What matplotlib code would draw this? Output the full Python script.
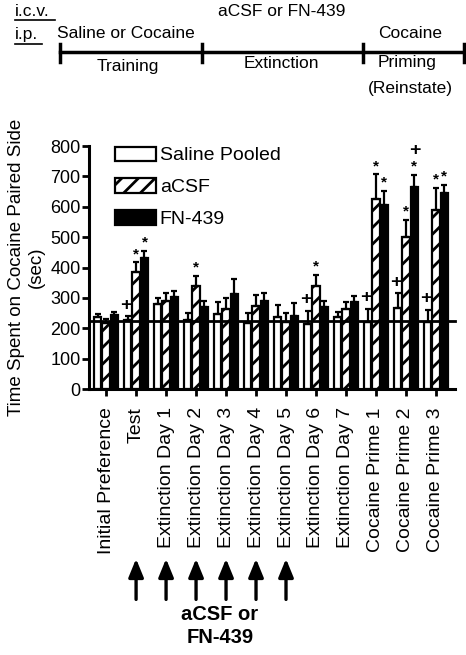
import matplotlib
matplotlib.use("Agg")
import matplotlib.pyplot as plt
import numpy as np

plt.rcParams['font.family'] = ['Liberation Sans', 'DejaVu Sans']
plt.rcParams['hatch.linewidth'] = 2.0

days = ["Initial Preference", "Test", "Extinction Day 1", "Extinction Day 2",
        "Extinction Day 3", "Extinction Day 4", "Extinction Day 5",
        "Extinction Day 6", "Extinction Day 7", "Cocaine Prime 1",
        "Cocaine Prime 2", "Cocaine Prime 3"]
saline = [238, 227, 280, 227, 247, 218, 236, 214, 236, 222, 268, 221]
saline_err = [9, 13, 20, 24, 40, 31, 40, 44, 18, 43, 47, 39]
acsf = [216, 386, 289, 339, 265, 274, 221, 340, 265, 625, 501, 591]
acsf_err = [14, 31, 28, 33, 35, 35, 30, 35, 22, 82, 57, 71]
fn439 = [243, 433, 304, 269, 312, 289, 241, 269, 285, 605, 666, 644]
fn439_err = [11, 22, 19, 20, 49, 26, 43, 21, 22, 47, 38, 27]
labels = ["Saline Pooled", "aCSF", "FN-439"]
baseline = 225

# (group, series index, symbol)
marks = [(1, 0, "+"), (1, 1, "*"), (1, 2, "*"), (3, 1, "*"),
         (7, 0, "+"), (7, 1, "*"),
         (9, 0, "+"), (9, 1, "*"), (9, 2, "*"),
         (10, 0, "+"), (10, 1, "*"), (10, 2, "*"), (10, 2, "+"),
         (11, 0, "+"), (11, 1, "*"), (11, 2, "*")]
arrow_days = [1, 2, 3, 4, 5, 6]

fig = plt.figure(figsize=(4.66, 6.55), dpi=100)
ax = fig.add_axes([0.191, 0.406, 0.785, 0.371])

x = np.arange(len(days))
w = 0.25
off = 0.28
series = [(saline, saline_err, "white", ""),
          (acsf, acsf_err, "white", "//"),
          (fn439, fn439_err, "black", "")]
handles = []
for i, (vals, errs, col, hatch) in enumerate(series):
    xs = x + (i - 1) * off
    b = ax.bar(xs, vals, w, color=col, edgecolor="black", hatch=hatch, linewidth=1.6, zorder=2)
    handles.append(b)
    ax.errorbar(xs, vals, yerr=[np.zeros(len(vals)), errs], fmt="none",
                ecolor="black", elinewidth=1.6, capsize=2.5, capthick=1.6, zorder=3)

ax.axhline(baseline, color="black", linewidth=2, zorder=4, clip_on=False)

allv = [saline, acsf, fn439]
alle = [saline_err, acsf_err, fn439_err]
for g, s, sym in marks:
    top = allv[s][g] + alle[s][g]
    xs = x[g] + (s - 1) * off
    if sym == "*":
        ax.annotate("*", (xs, top), xytext=(0, 6), textcoords="offset points",
                    ha="center", va="center", fontsize=11, fontweight="bold")
    else:
        dy = 8 if s == 0 else 18
        ax.annotate("+", (xs - (0.06 if s == 0 else 0), top), xytext=(0, dy),
                    textcoords="offset points",
                    ha="center", va="center", fontsize=14, fontweight="bold")

ax.set_xlim(-0.57, 11.63)
ax.set_ylim(0, 800)
ax.set_yticks(range(0, 801, 100))
ax.set_xticks(x)
ax.set_xticklabels(days, rotation=90, fontsize=14)
ax.tick_params(axis="y", labelsize=13, width=2, length=5, pad=1)
ax.tick_params(axis="x", width=2, length=5, pad=8)
for side in ["top", "right"]:
    ax.spines[side].set_visible(False)
for side in ["left", "bottom"]:
    ax.spines[side].set_linewidth(2.2)
ax.set_ylabel("Time Spent on Cocaine Paired Side\n(sec)", fontsize=13.5, labelpad=4)

ax.legend(handles, labels, loc="upper left",
          bbox_to_anchor=(0.05, 1.03), frameon=False, fontsize=14,
          handlelength=2.1, handleheight=0.75, handletextpad=0.2, labelspacing=0.72,
          borderaxespad=0)

# arrows under the x labels
tr = ax.get_xaxis_transform()
for d in arrow_days:
    ax.annotate("", xy=(x[d], -0.687), xytext=(x[d], -0.877), xycoords=tr, textcoords=tr,
                arrowprops=dict(arrowstyle="-|>,head_width=0.45,head_length=1.1",
                                color="black", lw=2.4))
ax.text(3.8, -0.89, "aCSF or\nFN-439", transform=tr, ha="center", va="top",
        fontsize=14.5, fontweight="bold", linespacing=1.25)

# timeline header
H = 655.0
W = 466.0
def fx(px):
    return px / W
def fy(py):
    return 1 - py / H

fig.text(fx(15), fy(11), "i.c.v.", fontsize=12.5, va="center", ha="left")
fig.text(fx(15), fy(35), "i.p.", fontsize=12.5, va="center", ha="left")
fig.add_artist(plt.Line2D([fx(15), fx(55)], [fy(20), fy(20)], color="black", lw=1.2))
fig.add_artist(plt.Line2D([fx(15), fx(42)], [fy(44), fy(44)], color="black", lw=1.2))
fig.text(fx(282), fy(11), "aCSF or FN-439", fontsize=12.5, va="center", ha="center")
fig.text(fx(126), fy(34), "Saline or Cocaine", fontsize=12.5, va="center", ha="center")
fig.text(fx(410), fy(34), "Cocaine", fontsize=12.5, va="center", ha="center")
fig.add_artist(plt.Line2D([fx(60), fx(464)], [fy(52), fy(52)], color="black", lw=2.5))
for px in [60, 202, 363, 464]:
    fig.add_artist(plt.Line2D([fx(px), fx(px)], [fy(44), fy(62)], color="black", lw=2.5))
fig.text(fx(128), fy(67), "Training", fontsize=12.5, va="center", ha="center")
fig.text(fx(281), fy(63), "Extinction", fontsize=12.5, va="center", ha="center")
fig.text(fx(407), fy(63), "Priming", fontsize=12.5, va="center", ha="center")
fig.text(fx(410), fy(88), "(Reinstate)", fontsize=12.5, va="center", ha="center")

fig.savefig("out.png", dpi=100)
